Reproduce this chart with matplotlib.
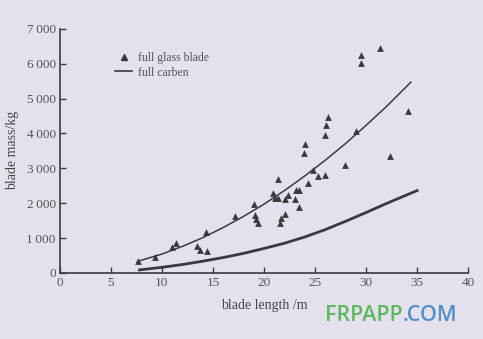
"""
Blade mass vs blade length: full glass blades (scatter) and full carbon (curve)
"""
import matplotlib
matplotlib.use('Agg')
import matplotlib.pyplot as plt
from matplotlib.lines import Line2D

glass_len = [7.7, 9.3, 10.95, 11.4, 13.4, 13.7, 14.4, 14.3, 17.2, 19.0, 19.1, 19.2, 19.4,
             21.4, 20.9, 21.1, 21.4, 21.6, 21.7, 22.1, 22.4, 22.1, 23.1, 23.4, 23.0, 23.4,
             24.3, 24.0, 23.9, 24.8, 25.3, 26.0, 26.3, 26.1, 26.0, 27.9, 29.0, 31.4, 29.5,
             29.5, 34.1, 32.4]
glass_mass = [350, 470, 730, 860, 780, 670, 620, 1170, 1630, 1970, 1660, 1560, 1440,
              2700, 2290, 2150, 2150, 1420, 1570, 1700, 2240, 2110, 2380, 2380, 2110, 1880,
              2580, 3690, 3430, 2940, 2770, 2810, 4480, 4250, 3960, 3100, 4080, 6450, 6260,
              6030, 4630, 3360]

# fitted trend through the glass blades
fit_len = [7.6, 10, 12, 14, 16, 18, 20, 22, 24, 26, 28, 30, 32, 34.4]
fit_mass = [330, 540, 760, 1010, 1300, 1620, 1970, 2360, 2780, 3230, 3710, 4230, 4770, 5470]

# full carbon curve
carbon_len = [7.8, 10, 12, 14, 16, 18, 20, 22, 24, 26, 28, 30, 32, 35]
carbon_mass = [85, 160, 240, 335, 440, 560, 700, 850, 1030, 1240, 1480, 1730, 1990, 2360]

x_ticks = [0, 5, 10, 15, 20, 25, 30, 35, 40]
y_ticks = [0, 1000, 2000, 3000, 4000, 5000, 6000, 7000]
y_labels = ['0', '1\u2009000', '2\u2009000', '3\u2009000', '4\u2009000',
            '5\u2009000', '6\u2009000', '7\u2009000']

bg = '#e4e1ec'
ink = '#3a3a3e'
serif = ['Liberation Serif', 'DejaVu Serif']

fig = plt.figure(figsize=(4.83, 3.39), dpi=100, facecolor=bg)
ax = fig.add_axes([0.124, 0.195, 0.845, 0.72], facecolor=bg)

ax.scatter(glass_len, glass_mass, marker='^', s=24, color=ink, zorder=3, linewidths=0)
ax.plot(fit_len, fit_mass, color=ink, lw=1.1)
ax.plot(carbon_len, carbon_mass, color=ink, lw=2.0)

ax.set_xlim(0, 40)
ax.set_ylim(0, 7000)
ax.set_xticks(x_ticks)
ax.set_yticks(y_ticks)
ax.set_yticklabels(y_labels)
for spine in ['top', 'right']:
    ax.spines[spine].set_visible(False)
for spine in ['left', 'bottom']:
    ax.spines[spine].set_color(ink)
    ax.spines[spine].set_linewidth(1.2)
ax.tick_params(direction='in', length=4, width=1.0, color=ink, labelcolor='#555555',
               labelsize=9.5, pad=3)
for lab in ax.get_xticklabels() + ax.get_yticklabels():
    lab.set_family(serif)

ax.set_xlabel('blade length /m', family=serif, fontsize=10, color='#444444', labelpad=7)
ax.set_ylabel('blade mass/kg', family=serif, fontsize=10, color='#444444', labelpad=5)

handles = [Line2D([], [], marker='^', ls='none', color=ink, markersize=5),
           Line2D([], [], color=ink, lw=1.2)]
ax.legend(handles, ['full glass blade', 'full carben'], loc='upper left',
          bbox_to_anchor=(0.11, 0.95), frameon=False, handlelength=1.4,
          handletextpad=0.5, labelspacing=0.25, prop={'family': serif, 'size': 8.5},
          labelcolor='#555555')

# watermark
wm = fig.text(0.672, 0.068, 'FRPAPP', color='#5cb85c', fontsize=15.5, fontweight='semibold',
              family='Open Sans', ha='left', va='center')
fig.canvas.draw()
ax.annotate('.COM', xy=(1.0, 0.5), xycoords=wm, color='#4f8fca', fontsize=15.5,
            fontweight='semibold', family='Open Sans', ha='left', va='center',
            annotation_clip=False)

plt.savefig('out.png', dpi=100, facecolor=bg)
plt.close()
